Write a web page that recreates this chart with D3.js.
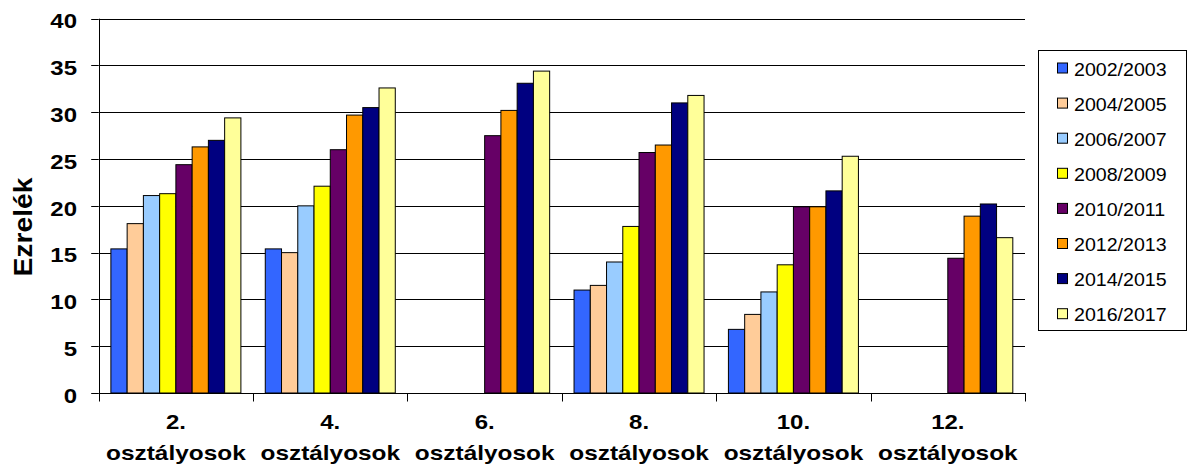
<!DOCTYPE html>
<html>
<head>
<meta charset="utf-8">
<script src="https://cdn.jsdelivr.net/npm/d3@7"></script>
<style>
  body { margin: 0; background: #fff; }
  text { font-family: "Liberation Sans", Arial, sans-serif; }
</style>
</head>
<body>
<div id="chart"></div>
<script>
// categories and series
var grades = ["2.", "4.", "6.", "8.", "10.", "12."];
var gradeSub = "osztályosok";
var years = ["2002/2003", "2004/2005", "2006/2007", "2008/2009",
             "2010/2011", "2012/2013", "2014/2015", "2016/2017"];
var colors = ["#3366FF", "#FFCC99", "#99CCFF", "#FFFF00",
              "#660066", "#FF9900", "#000080", "#FFFF99"];

// values per year, in grade order (null = no bar)
var v2002 = [15.4, 15.4, null, 11.0, 6.8, null];
var v2004 = [18.1, 15.0, null, 11.5, 8.4, null];
var v2006 = [21.1, 20.0, null, 14.0, 10.8, null];
var v2008 = [21.3, 22.1, null, 17.8, 13.7, null];
var v2010 = [24.4, 26.0, 27.5, 25.7, 19.9, 14.4];
var v2012 = [26.3, 29.7, 30.2, 26.5, 19.9, 18.9];
var v2014 = [27.0, 30.5, 33.1, 31.0, 21.6, 20.2];
var v2016 = [29.4, 32.6, 34.4, 31.8, 25.3, 16.6];
var series = [v2002, v2004, v2006, v2008, v2010, v2012, v2014, v2016];

var yTicks = [0, 5, 10, 15, 20, 25, 30, 35, 40];
var yTitle = "Ezrelék";

var width = 1189, height = 470;
var plotL = 98.7, plotR = 1025, plotT = 18.7, plotB = 393;

var svg = d3.select("#chart").append("svg")
    .attr("width", width)
    .attr("height", height);

var x = d3.scaleBand().domain(d3.range(grades.length)).range([plotL, plotR]).padding(0);
var xs = d3.scaleBand().domain(d3.range(years.length)).range([0, x.bandwidth()])
    .paddingInner(0).paddingOuter(0.75);
var y = d3.scaleLinear().domain([0, 40]).range([plotB, plotT]);

// gridlines
svg.selectAll(".grid")
    .data(yTicks).enter().append("line")
    .attr("x1", plotL).attr("x2", plotR)
    .attr("y1", function (d) { return Math.round(y(d)) + 0.5; })
    .attr("y2", function (d) { return Math.round(y(d)) + 0.5; })
    .attr("stroke", "#000").attr("stroke-width", 1);

// y tick marks
svg.selectAll(".ytick")
    .data(yTicks).enter().append("line")
    .attr("x1", plotL - 7.5).attr("x2", plotL)
    .attr("y1", function (d) { return Math.round(y(d)) + 0.5; })
    .attr("y2", function (d) { return Math.round(y(d)) + 0.5; })
    .attr("stroke", "#000");

svg.selectAll(".ylab")
    .data(yTicks).enter().append("text")
    .attr("transform", function (d) { return "translate(77," + (y(d) + 9.7) + ") scale(1.2,1)"; })
    .attr("text-anchor", "end")
    .style("font-size", "20px").style("font-weight", "bold")
    .text(function (d) { return d; });

// bars
var g = svg.selectAll(".year")
    .data(series).enter().append("g")
    .attr("fill", function (d, i) { return colors[i]; });

g.each(function (vals, si) {
    d3.select(this).selectAll("rect")
        .data(vals.map(function (v, ci) { return { v: v, c: ci }; })
            .filter(function (d) { return d.v != null; }))
        .enter().append("rect")
        .attr("x", function (d) { return x(d.c) + xs(si); })
        .attr("width", xs.bandwidth())
        .attr("y", function (d) { return y(d.v); })
        .attr("height", function (d) { return y(0) - y(d.v); })
        .attr("stroke", "#000").attr("stroke-width", 1);
});

// axes lines
svg.append("line")
    .attr("x1", Math.round(plotL) + 0.5).attr("x2", Math.round(plotL) + 0.5)
    .attr("y1", plotT).attr("y2", plotB)
    .attr("stroke", "#000");
svg.append("line")
    .attr("x1", plotL).attr("x2", plotR)
    .attr("y1", plotB + 0.5).attr("y2", plotB + 0.5)
    .attr("stroke", "#000");

var bounds = d3.range(grades.length + 1).map(function (i) {
    return i < grades.length ? x(i) : plotR;
});
svg.selectAll(".xtick")
    .data(bounds).enter().append("line")
    .attr("x1", function (d) { return Math.round(d) + 0.5; })
    .attr("x2", function (d) { return Math.round(d) + 0.5; })
    .attr("y1", plotB).attr("y2", plotB + 8.5)
    .attr("stroke", "#000");

var xl = svg.selectAll(".xlab")
    .data(grades).enter().append("g");
xl.append("text")
    .attr("transform", function (d, i) { return "translate(" + (x(i) + x.bandwidth() / 2) + ",429) scale(1.2,1)"; })
    .attr("text-anchor", "middle")
    .style("font-size", "20px").style("font-weight", "bold")
    .text(function (d) { return d; });
xl.append("text")
    .attr("transform", function (d, i) { return "translate(" + (x(i) + x.bandwidth() / 2) + ",460) scale(1.22,1)"; })
    .attr("text-anchor", "middle")
    .style("font-size", "20px").style("font-weight", "bold")
    .text(gradeSub);

// y title
svg.append("text")
    .attr("transform", "translate(31.5,227) rotate(-90)")
    .attr("text-anchor", "middle")
    .attr("textLength", 99).attr("lengthAdjust", "spacingAndGlyphs")
    .style("font-size", "25px").style("font-weight", "bold")
    .text(yTitle);

// legend
var lg = svg.append("g");
lg.append("rect")
    .attr("x", 1038.5).attr("y", 50.5)
    .attr("width", 148).attr("height", 280)
    .attr("fill", "#fff").attr("stroke", "#000");

var item = lg.selectAll(".item")
    .data(years).enter().append("g")
    .attr("transform", function (d, i) { return "translate(0," + (68.5 + i * 35.1) + ")"; });
item.append("rect")
    .attr("x", 1057.5).attr("y", -5.5)
    .attr("width", 10).attr("height", 10)
    .attr("fill", function (d, i) { return colors[i]; })
    .attr("stroke", "#000");
item.append("text")
    .attr("transform", "translate(1074,7) scale(1.06,1)")
    .style("font-size", "18.5px")
    .text(function (d) { return d; });
</script>
</body>
</html>
